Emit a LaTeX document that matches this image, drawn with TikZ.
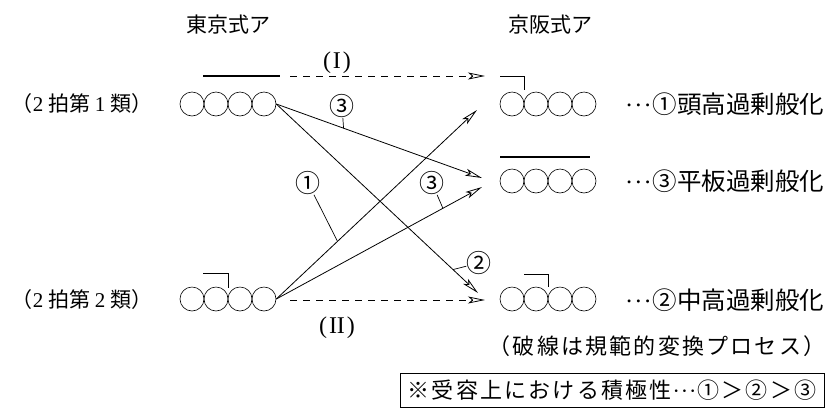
\documentclass[tikz,border=0pt]{standalone}
\usepackage{fontspec}
\setmainfont{Noto Sans CJK JP}
\newfontfamily\jpwide{Noto Sans CJK JP}[LetterSpace=10]
\newfontfamily\lat{Liberation Serif}
\newcommand{\dotsmid}{{\lat\kern1pt·\kern1pt·\kern1pt·\kern1pt}}
\usetikzlibrary{arrows.meta,calc}
\begin{document}
\begin{tikzpicture}[x=1pt,y=-1pt,
  mora/.style={circle,draw,line width=0.6pt,minimum size=24pt,inner sep=0pt},
  accent/.style={line width=0.9pt},
  overl/.style={line width=1.2pt},
  conn/.style={line width=0.8pt,-{Stealth[open,length=17pt,width=7pt,inset=4pt]}},
  dconn/.style={conn,dash pattern=on 7pt off 6pt},
  lbl/.style={font=\fontsize{21}{24}\selectfont,inner sep=0pt},
  rlbl/.style={font=\fontsize{24.5}{26}\selectfont,inner sep=0pt,anchor=west},
  num/.style={font=\fontsize{25}{25}\selectfont,inner sep=0pt},
  roman/.style={font=\fontsize{24}{26}\lat,inner sep=0pt},
  tick/.style={line width=0.7pt}]
\useasboundingbox (0,0) rectangle (825,408);

% titles
\node[lbl] (tTokyo) at (228,25) {東京式ア};
\node[lbl] (tKeihan) at (550,25) {京阪式ア};

% row labels
\node[lbl] (row1) at (82,104) {（{\lat 2} 拍第 {\lat 1} 類）};
\node[lbl] (row2) at (82,300) {（{\lat 2} 拍第 {\lat 2} 類）};

% mora circles
\foreach \i/\x in {1/192,2/216,3/240,4/264}{
  \node[mora] (ta\i) at (\x,104) {};
  \node[mora] (tb\i) at (\x,299) {};
}
\foreach \i/\x in {1/512,2/536,3/560,4/584}{
  \node[mora] (ka\i) at (\x,104) {};
  \node[mora] (kb\i) at (\x,181) {};
  \node[mora] (kc\i) at (\x,299) {};
}

% accent marks
\draw[overl] (203,76) -- (280,76);
\draw[accent] (203,273) -- (228,273) -- (228,288);
\draw[accent] (500,76) -- (524,76) -- (524,90);
\draw[overl] (500,157) -- (590,157);
\draw[accent] (524,274) -- (548,274) -- (548,287);

% right labels
\node[rlbl] (r1) at (624,104) {\dotsmid①頭高過剰般化};
\node[rlbl] (r2) at (624,181) {\dotsmid③平板過剰般化};
\node[rlbl] (r3) at (624,300) {\dotsmid②中高過剰般化};
\node[font=\fontsize{22}{26}\jpwide,inner sep=0pt] (note) at (657,346) {（破線は規範的変換プロセス）};
\node[draw,line width=0.8pt,minimum width=424pt,minimum height=34pt,inner sep=0pt,
  font=\fontsize{22}{26}\jpwide] (box) at (612,390) {※受容上における積極性\dotsmid①＞②＞③};

% coordinates for arrow ends
\coordinate (d1s) at (290,76);
\coordinate (d1e) at (485,76);
\coordinate (d2s) at (290,300);
\coordinate (d2e) at (485,300);
\coordinate (e12) at (482,178);
\coordinate (e13) at (478,293);
\coordinate (e21) at (477,110);
\coordinate (e22) at (482,187);

% arrows
\draw[dconn] (d1s) -- (d1e);
\draw[dconn] (d2s) -- (d2e);
\draw[conn] (ta4.east) -- (e12);
\draw[conn] (ta4.east) -- (e13);
\draw[conn] (tb4.east) -- (e21);
\draw[conn] (tb4.east) -- (e22);

\node[roman] (pI) at (337,63) {(\kern2pt I\kern2pt)};
\node[roman] (pII) at (337,328) {(\kern2pt II\kern2pt)};

% numbered labels with ticks
\coordinate (p3a) at ($(ta4.east)!0.327!(e12)$);
\coordinate (p2) at ($(ta4.east)!0.876!(e13)$);
\coordinate (p1) at ($(tb4.east)!0.305!(e21)$);
\coordinate (p3b) at ($(tb4.east)!0.81!(e22)$);
\node[num] (n3a) at (342,106) {③};
\node[num] (n1) at (308,183) {①};
\node[num] (n3b) at (432,183) {③};
\node[num] (n2) at (479,263) {②};
\draw[tick] (n3a) -- (p3a);
\draw[tick] (n1) -- (p1);
\draw[tick] (n3b) -- (p3b);
\draw[tick] (n2) -- (p2);
\end{tikzpicture}
\end{document}
